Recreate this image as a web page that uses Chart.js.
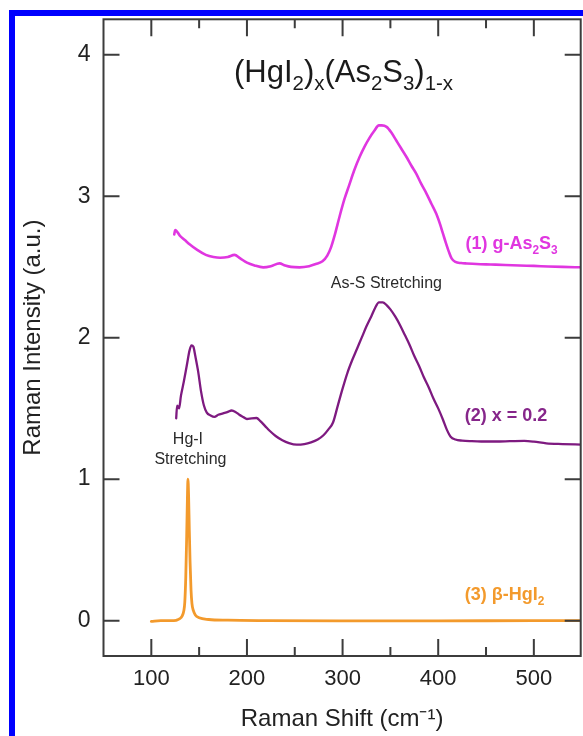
<!DOCTYPE html>
<html>
<head>
<meta charset="utf-8">
<script src="https://cdn.jsdelivr.net/npm/chart.js@4/dist/chart.umd.min.js"></script>
<style>
  html, body { margin: 0; padding: 0; background: #ffffff; }
  #wrap { position: relative; width: 583px; height: 736px; overflow: hidden; background: #ffffff; }
  #frame { position: absolute; left: 9px; top: 10px; width: 600px; height: 760px;
           border-top: 6px solid #0000ff; border-left: 6px solid #0000ff; box-sizing: border-box; }
  canvas { position: absolute; left: 0; top: 0; }
</style>
</head>
<body>
<div id="wrap">
  <div id="frame"></div>
  <canvas id="c" width="583" height="736"></canvas>
</div>
<script>
// ---- data ----
const xTicks = [100, 200, 300, 400, 500];
const xMinorTicks = [150, 250, 350, 450];
const yTicks = [0, 1, 2, 3, 4];

// (1) g-As2S3
const s1X = [124, 125, 130, 135, 140, 148, 157, 165, 172, 180, 187, 193, 200, 208, 217, 225, 234, 240, 246, 255, 265, 272, 279, 284, 288, 292, 297, 302, 307, 312, 318, 323, 328, 333, 338, 341, 346, 351, 356, 361, 367, 372, 377, 382, 388, 393, 398, 402, 405, 408, 411, 414, 418, 424, 430, 440, 455, 470, 485, 500, 515, 530, 550];
const s1Y = [2.73, 2.76, 2.72, 2.69, 2.66, 2.62, 2.585, 2.57, 2.565, 2.57, 2.585, 2.56, 2.53, 2.51, 2.497, 2.505, 2.525, 2.51, 2.50, 2.497, 2.505, 2.52, 2.54, 2.58, 2.64, 2.73, 2.86, 2.98, 3.08, 3.18, 3.28, 3.35, 3.41, 3.46, 3.50, 3.50, 3.49, 3.45, 3.395, 3.34, 3.275, 3.215, 3.16, 3.09, 3.015, 2.945, 2.875, 2.80, 2.735, 2.67, 2.61, 2.56, 2.535, 2.527, 2.524, 2.52, 2.517, 2.514, 2.51, 2.507, 2.503, 2.50, 2.497];

// (2) x = 0.2
const s2X = [126, 127, 129, 131, 134, 137, 140, 142, 144, 146, 149, 152, 155, 158, 162, 166, 170, 175, 180, 184, 188, 192, 196, 200, 205, 210, 214, 219, 224, 230, 237, 244, 252, 260, 267, 274, 280, 285, 290, 295, 300, 305, 310, 315, 320, 325, 330, 334, 338, 342, 346, 350, 355, 360, 365, 370, 375, 380, 385, 390, 395, 400, 405, 409, 413, 418, 425, 435, 445, 460, 475, 490, 500, 513, 530, 550];
const s2Y = [1.43, 1.52, 1.50, 1.59, 1.69, 1.80, 1.91, 1.945, 1.935, 1.87, 1.76, 1.62, 1.52, 1.47, 1.45, 1.44, 1.455, 1.465, 1.475, 1.485, 1.475, 1.455, 1.44, 1.425, 1.43, 1.432, 1.41, 1.375, 1.34, 1.305, 1.275, 1.255, 1.244, 1.248, 1.26, 1.28, 1.31, 1.35, 1.40, 1.52, 1.64, 1.75, 1.84, 1.92, 2.00, 2.08, 2.15, 2.21, 2.25, 2.25, 2.23, 2.20, 2.15, 2.09, 2.02, 1.95, 1.87, 1.80, 1.72, 1.65, 1.57, 1.50, 1.42, 1.35, 1.30, 1.28, 1.272, 1.268, 1.266, 1.266, 1.268, 1.27, 1.265, 1.253, 1.248, 1.244];

// (3) beta-HgI2
const s3X = [100, 110, 120, 126, 128, 130, 132, 134, 135, 136, 137, 137.7, 138.3, 139, 139.7, 140.5, 141.5, 142.5, 144, 146, 150, 160, 180, 220, 300, 400, 500, 550];
const s3Y = [-0.005, 0.0, 0.0, 0.002, 0.008, 0.015, 0.03, 0.07, 0.13, 0.30, 0.60, 0.85, 1.0, 0.88, 0.65, 0.42, 0.22, 0.12, 0.07, 0.04, 0.02, 0.008, 0.003, 0.0, -0.002, -0.002, 0.0, 0.0];

const FONT = "'Liberation Sans', Arial, Helvetica, sans-serif";
const C1 = '#e036e0', C2 = '#7e1a80', C3 = '#f39a2c';
const AXIS = '#3c3c3c';

function pts(xs, ys) { return xs.map((x, i) => ({ x: x, y: ys[i] })); }

// rich text with sub/superscripts: segs = [[text, 'n'|'sub'|'sup'], ...]
function drawRich(ctx, segs, x, y, align, weight, size, color) {
  const small = size * 0.66;
  let total = 0;
  const parts = segs.map(([t, m]) => {
    const fs = m === 'n' ? size : small;
    ctx.font = weight + ' ' + fs + 'px ' + FONT;
    const w = ctx.measureText(t).width;
    total += w;
    return { t, m, fs, w };
  });
  let cx = align === 'center' ? x - total / 2 : x;
  ctx.fillStyle = color;
  ctx.textAlign = 'left';
  ctx.textBaseline = 'alphabetic';
  for (const p of parts) {
    ctx.font = weight + ' ' + p.fs + 'px ' + FONT;
    const dy = p.m === 'sub' ? size * 0.27 : (p.m === 'sup' ? -size * 0.42 : 0);
    ctx.fillText(p.t, cx, y + dy);
    cx += p.w;
  }
}

const framePlugin = {
  id: 'frame',
  afterDatasetsDraw(chart) {
    const { ctx, chartArea: a, scales: { x, y } } = chart;
    ctx.save();
    ctx.strokeStyle = AXIS;
    ctx.lineWidth = 2;
    ctx.strokeRect(a.left, a.top, a.right - a.left, a.bottom - a.top);
    ctx.beginPath();
    xTicks.forEach(v => {
      const px = x.getPixelForValue(v);
      ctx.moveTo(px, a.bottom); ctx.lineTo(px, a.bottom - 17);
      ctx.moveTo(px, a.top); ctx.lineTo(px, a.top + 17);
    });
    xMinorTicks.forEach(v => {
      const px = x.getPixelForValue(v);
      ctx.moveTo(px, a.bottom); ctx.lineTo(px, a.bottom - 9);
      ctx.moveTo(px, a.top); ctx.lineTo(px, a.top + 9);
    });
    yTicks.forEach(v => {
      const py = y.getPixelForValue(v);
      ctx.moveTo(a.left, py); ctx.lineTo(a.left + 16, py);
      ctx.moveTo(a.right, py); ctx.lineTo(a.right - 16, py);
    });
    ctx.stroke();
    ctx.restore();
  }
};

const textPlugin = {
  id: 'labels',
  afterDraw(chart) {
    const { ctx, scales: { x, y } } = chart;
    const X = v => x.getPixelForValue(v), Y = v => y.getPixelForValue(v);
    ctx.save();
    drawRich(ctx, [['(HgI', 'n'], ['2', 'sub'], [')', 'n'], ['x', 'sub'], ['(As', 'n'], ['2', 'sub'], ['S', 'n'], ['3', 'sub'], [')', 'n'], ['1-x', 'sub']],
      X(301), Y(3.81), 'center', 'normal', 31, '#1a1a1a');
    drawRich(ctx, [['As-S Stretching', 'n']], X(345.8), Y(2.351), 'center', 'normal', 16, '#2a2a2a');
    drawRich(ctx, [['Hg-I', 'n']], X(138.3), Y(1.249), 'center', 'normal', 16, '#2a2a2a');
    drawRich(ctx, [['Stretching', 'n']], X(140.9), Y(1.107), 'center', 'normal', 16, '#2a2a2a');
    drawRich(ctx, [['(1) g-As', 'n'], ['2', 'sub'], ['S', 'n'], ['3', 'sub']], X(428.5), Y(2.629), 'left', 'bold', 18, C1);
    drawRich(ctx, [['(2) x = 0.2', 'n']], X(427.7), Y(1.413), 'left', 'bold', 18, '#86268a');
    drawRich(ctx, [['(3) \u03b2-HgI', 'n'], ['2', 'sub']], X(427.7), Y(0.148), 'left', 'bold', 18, C3);
    ctx.restore();
  }
};

new Chart(document.getElementById('c'), {
  type: 'line',
  data: {
    datasets: [
      { label: '(1) g-As2S3', data: pts(s1X, s1Y), borderColor: C1, borderWidth: 2.6 },
      { label: '(2) x = 0.2', data: pts(s2X, s2Y), borderColor: C2, borderWidth: 2.3 },
      { label: '(3) β-HgI2', data: pts(s3X, s3Y), borderColor: C3, borderWidth: 2.8 }
    ]
  },
  options: {
    responsive: false,
    animation: false,
    devicePixelRatio: 1,
    elements: { point: { radius: 0 }, line: { cubicInterpolationMode: 'monotone', borderJoinStyle: 'round', borderCapStyle: 'round' } },
    layout: { padding: { top: 19.3, right: 2.3, left: 0, bottom: 0 } },
    plugins: { legend: { display: false }, tooltip: { enabled: false }, title: { display: false } },
    scales: {
      x: {
        type: 'linear', min: 50, max: 549,
        grid: { display: false, drawTicks: false },
        border: { display: false },
        afterBuildTicks: s => { s.ticks = xTicks.map(v => ({ value: v })); },
        afterFit: s => { s.height = 80; s.paddingLeft = 0; s.paddingRight = 0; },
        ticks: { padding: 10, color: '#222', font: { family: FONT, size: 22 }, maxRotation: 0, autoSkip: false },
        title: { display: true, text: 'Raman Shift (cm\u207b\u00b9)', color: '#222', font: { family: FONT, size: 24 }, padding: { top: 0, bottom: 2 } }
      },
      y: {
        type: 'linear', min: -0.25, max: 4.25,
        grid: { display: false, drawTicks: false },
        border: { display: false },
        afterBuildTicks: s => { s.ticks = yTicks.map(v => ({ value: v })); },
        afterFit: s => { s.width = 103.5; s.paddingTop = 0; s.paddingBottom = 0; },
        ticks: { padding: 13, color: '#222', font: { family: FONT, size: 23 }, callback: v => String(v) },
        title: { display: true, text: 'Raman Intensity (a.u.)', color: '#222', font: { family: FONT, size: 24 }, padding: { top: 19, bottom: 0 } }
      }
    }
  },
  plugins: [framePlugin, textPlugin]
});
</script>
</body>
</html>
